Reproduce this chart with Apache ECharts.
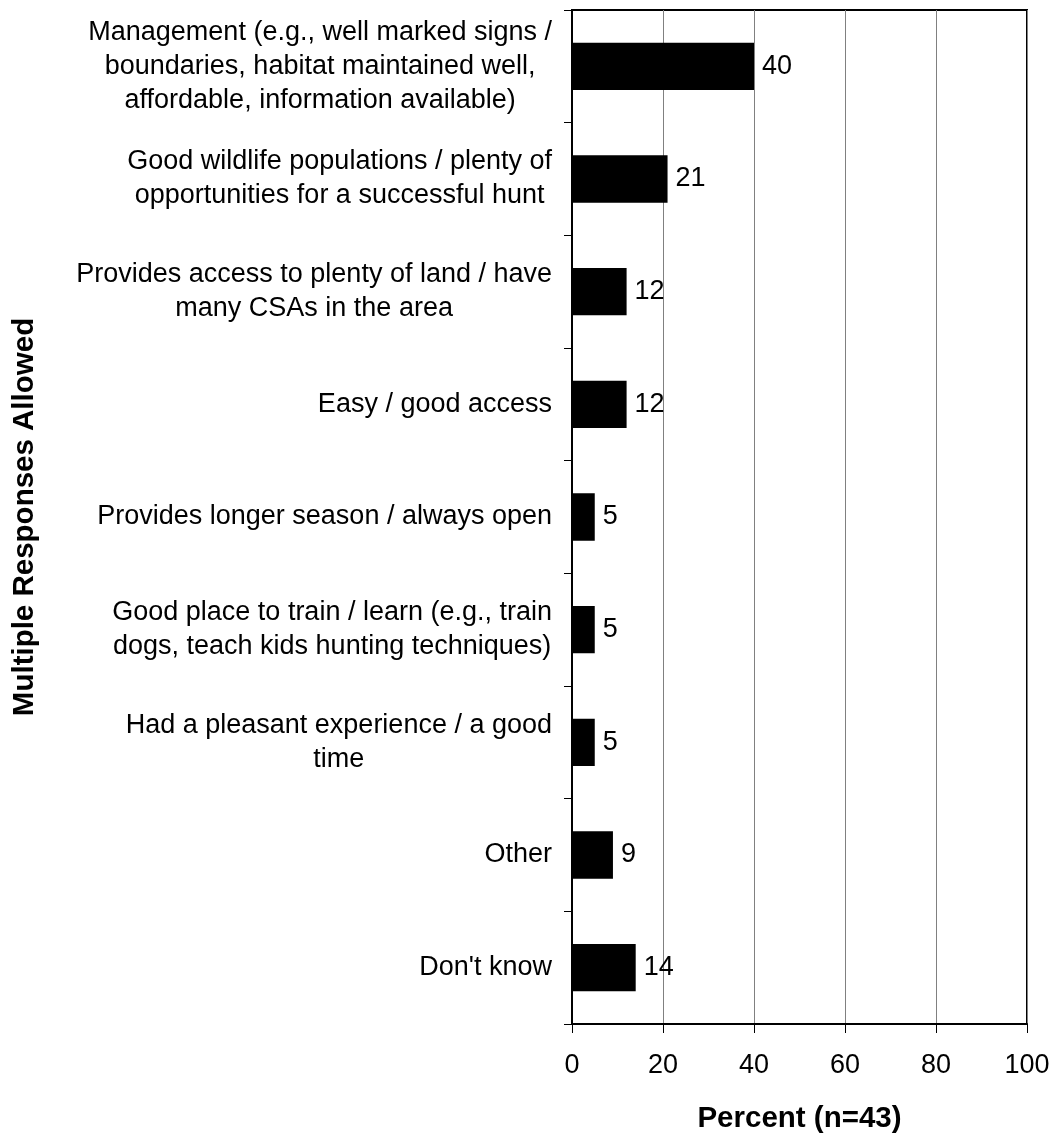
<!DOCTYPE html>
<html>
<head>
<meta charset="utf-8">
<script src="https://cdn.jsdelivr.net/npm/echarts@6/dist/echarts.min.js"></script>
<style>
  html, body { margin: 0; padding: 0; background: #fff; }
  #chart { width: 1055px; height: 1134px; }
</style>
</head>
<body>
<div id="chart"></div>
<script>
// Reasons given for liking the area, top to bottom
const categories = [
  "Management (e.g., well marked signs /\nboundaries, habitat maintained well,\naffordable, information available)",
  "Good wildlife populations / plenty of\nopportunities for a successful hunt",
  "Provides access to plenty of land / have\nmany CSAs in the area",
  "Easy / good access",
  "Provides longer season / always open",
  "Good place to train / learn (e.g., train\ndogs, teach kids hunting techniques)",
  "Had a pleasant experience / a good\ntime",
  "Other",
  "Don't know"
];

// Percent of respondents (n=43)
const percents = [40, 21, 12, 12, 5, 5, 5, 9, 14];

const xTicks = [0, 20, 40, 60, 80, 100];
const xAxisTitle = "Percent (n=43)";
const yAxisTitle = "Multiple Responses Allowed";

const FONT = "'Liberation Sans', Arial, Helvetica, sans-serif";

const chart = echarts.init(document.getElementById('chart'), null, { renderer: 'canvas' });

chart.setOption({
  animation: false,
  backgroundColor: '#ffffff',
  grid: {
    left: 572,
    right: 28,
    top: 10,
    bottom: 110,
    containLabel: false,
    outerBoundsMode: 'none',
    show: true,
    borderColor: '#000',
    borderWidth: 2,
    backgroundColor: 'transparent'
  },
  xAxis: {
    type: 'value',
    min: xTicks[0],
    max: xTicks[xTicks.length - 1],
    interval: 20,
    name: xAxisTitle,
    nameLocation: 'middle',
    nameGap: 80,
    nameTextStyle: { fontFamily: FONT, fontSize: 29.5, fontWeight: 'bold', color: '#000' },
    axisLine: { show: true, lineStyle: { color: '#000', width: 2 } },
    axisTick: { show: true, length: 9, lineStyle: { color: '#000', width: 1 } },
    axisLabel: { fontFamily: FONT, fontSize: 27, color: '#000', margin: 28 },
    splitLine: { show: true, lineStyle: { color: '#808080', width: 1 } }
  },
  yAxis: {
    type: 'category',
    inverse: true,
    data: categories,
    name: yAxisTitle,
    nameLocation: 'middle',
    nameGap: 532,
    nameRotate: 90,
    nameTextStyle: { fontFamily: FONT, fontSize: 29.5, fontWeight: 'bold', color: '#000' },
    axisLine: { show: true, lineStyle: { color: '#000', width: 2 } },
    axisTick: { show: true, length: 8, lineStyle: { color: '#000', width: 1 } },
    axisLabel: {
      margin: 20,
      align: 'right',
      fontFamily: FONT,
      fontSize: 27,
      color: '#000',
      formatter: function (v) {
        return v.split('\n').map(function (line) { return '{c|' + line + '}'; }).join('\n');
      },
      rich: {
        c: { align: 'center', fontFamily: FONT, fontSize: 27, lineHeight: 34, color: '#000' }
      }
    },
    splitLine: { show: false }
  },
  series: [{
    type: 'bar',
    data: percents,
    barWidth: '42%',
    itemStyle: { color: '#000' },
    label: {
      show: true,
      position: 'right',
      distance: 8,
      fontFamily: FONT,
      fontSize: 27,
      color: '#000'
    }
  }]
});
</script>
</body>
</html>
